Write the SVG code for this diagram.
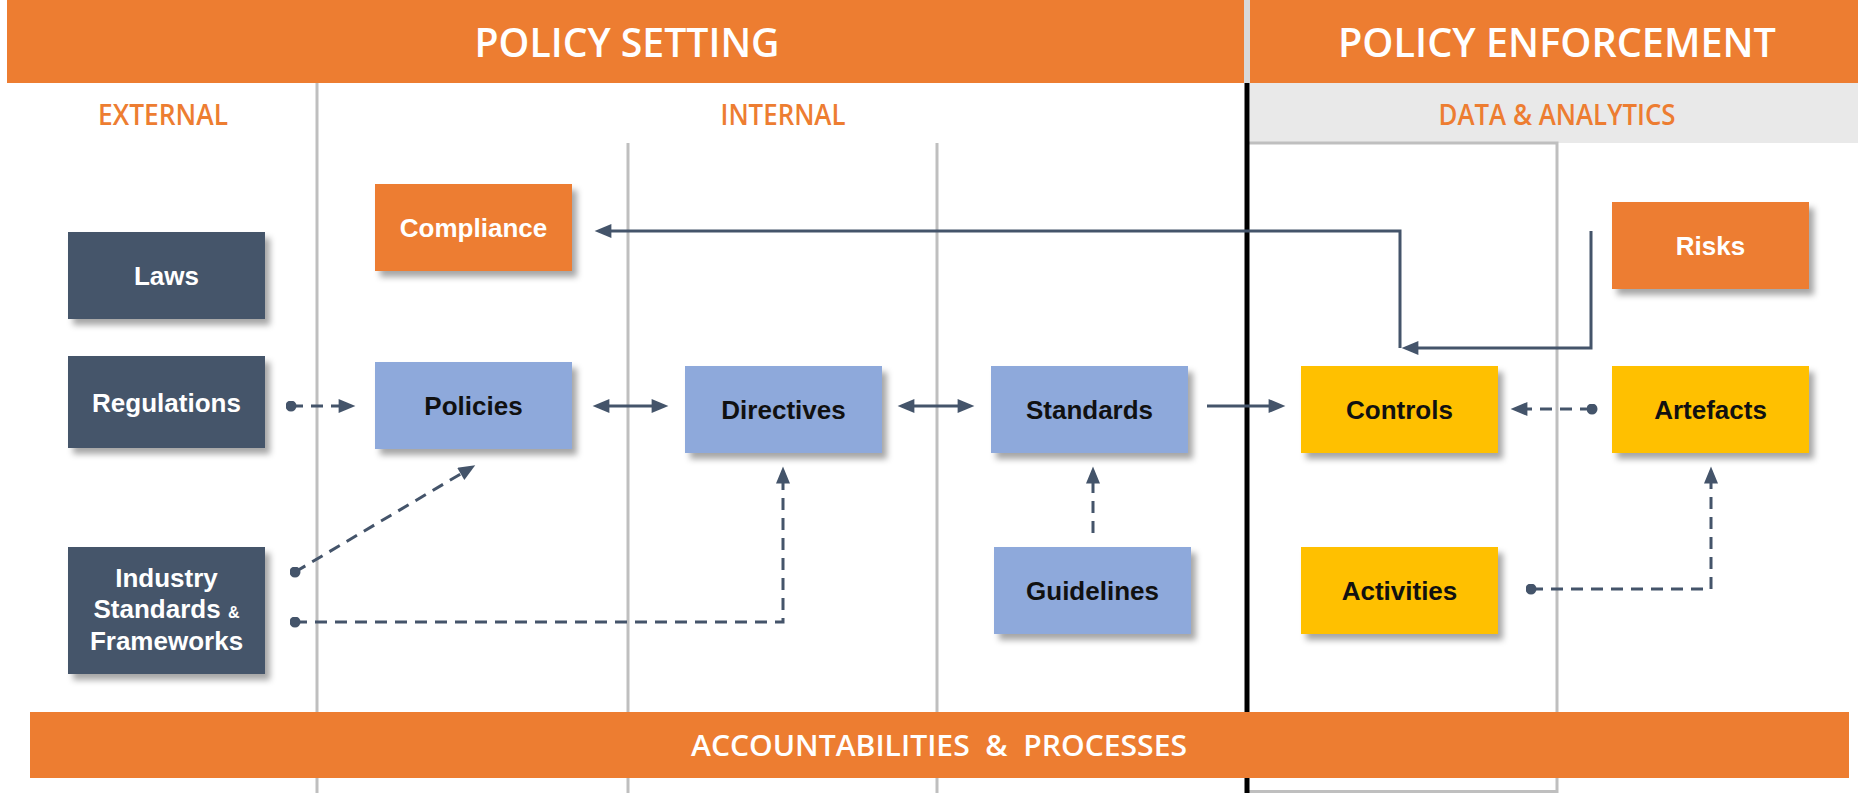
<svg xmlns="http://www.w3.org/2000/svg" width="1858" height="793" viewBox="0 0 1858 793">
<style>
.hdr{font-family:"Open Sans","Liberation Sans",sans-serif;fill:#fff;font-size:40px;font-weight:600}
.sub{font-family:"Open Sans","Liberation Sans",sans-serif;fill:#ED7D31;font-size:28px;font-weight:600}
.nt{font-family:"Liberation Sans",Arial,sans-serif;font-weight:bold;font-size:26px;text-anchor:middle}
.w{fill:#fff}.k{fill:#111}
.dark{fill:#44546A}.org{fill:#ED7D31}.blu{fill:#8EA9DB}.yel{fill:#FFC000}
.grid{stroke:#BFBFBF;stroke-width:3;fill:none}
.c{stroke:#44546A;stroke-width:3;fill:none}
.d{stroke-dasharray:12 8}
</style>
<defs>
<filter id="sh" x="-10%" y="-10%" width="130%" height="140%">
<feDropShadow dx="5" dy="6" stdDeviation="3" flood-color="#000" flood-opacity="0.35"/>
</filter>
<marker id="arr" viewBox="0 0 12 10" refX="6" refY="5" markerWidth="18" markerHeight="14" markerUnits="userSpaceOnUse" orient="auto-start-reverse">
<path d="M0,0 L12,5 L0,10 z" fill="#44546A"/>
</marker>
<marker id="dot" viewBox="0 0 10 10" refX="5" refY="5" markerWidth="11" markerHeight="11" markerUnits="userSpaceOnUse">
<circle cx="5" cy="5" r="5" fill="#44546A"/>
</marker>
</defs>
<rect width="1858" height="793" fill="#fff"/>
<g id="background">
<rect x="7" y="0" width="1237" height="83" fill="#ED7D31"/>
<rect x="1250" y="0" width="608" height="83" fill="#ED7D31"/>
<rect x="1244" y="0" width="6" height="83" fill="#D9D9D9"/>
<rect x="1250" y="83" width="608" height="60" fill="#E9E9E9"/>
<line class="grid" x1="317" y1="83" x2="317" y2="793"/>
<line class="grid" x1="628" y1="143" x2="628" y2="793"/>
<line class="grid" x1="937" y1="143" x2="937" y2="793"/>
<path class="grid" d="M1249 143 H1557 V793"/>
<line class="grid" x1="1249" y1="791.5" x2="1557" y2="791.5" stroke-width="2"/>
<line x1="1247" y1="83" x2="1247" y2="793" stroke="#000" stroke-width="5"/>
<text class="hdr" x="627" y="57" text-anchor="middle" textLength="305" lengthAdjust="spacingAndGlyphs">POLICY SETTING</text>
<text class="hdr" x="1557" y="57" text-anchor="middle" textLength="438" lengthAdjust="spacingAndGlyphs">POLICY ENFORCEMENT</text>
<text class="sub" x="163" y="125" text-anchor="middle" textLength="130" lengthAdjust="spacingAndGlyphs">EXTERNAL</text>
<text class="sub" x="783" y="125" text-anchor="middle" textLength="125" lengthAdjust="spacingAndGlyphs">INTERNAL</text>
<text class="sub" x="1557" y="125" text-anchor="middle" textLength="237" lengthAdjust="spacingAndGlyphs">DATA &amp; ANALYTICS</text>
</g>
<g id="connectors">
<path class="c d" d="M291 406 H347" marker-start="url(#dot)" marker-end="url(#arr)"/>
<path class="c" d="M601 406 H660" marker-start="url(#arr)" marker-end="url(#arr)"/>
<path class="c" d="M906 406 H966" marker-start="url(#arr)" marker-end="url(#arr)"/>
<path class="c" d="M1207 406 H1277" marker-end="url(#arr)"/>
<path class="c d" d="M1592 409 H1519" marker-start="url(#dot)" marker-end="url(#arr)"/>
<path class="c" d="M1591 231 V348 H1410" marker-end="url(#arr)"/>
<path class="c" d="M1400 348 V231 H603" marker-end="url(#arr)"/>
<path class="c d" d="M295 572 L468 469.6" marker-start="url(#dot)" marker-end="url(#arr)"/>
<path class="c d" d="M295 622 H783 V475" marker-start="url(#dot)" marker-end="url(#arr)"/>
<path class="c d" d="M1093 533 V475" marker-end="url(#arr)"/>
<path class="c d" d="M1531 589 H1711 V475" marker-start="url(#dot)" marker-end="url(#arr)"/>
</g>
<g id="laws"><rect class="dark" x="68" y="232" width="197" height="87" filter="url(#sh)"/><text class="nt w" x="166.5" y="285">Laws</text></g>
<g id="regulations"><rect class="dark" x="68" y="356" width="197" height="92" filter="url(#sh)"/><text class="nt w" x="166.5" y="412">Regulations</text></g>
<g id="industry"><rect class="dark" x="68" y="547" width="197" height="127" filter="url(#sh)"/><text class="nt w" x="166.5" y="587">Industry</text><text class="nt w" x="166.5" y="618">Standards <tspan font-size="16">&amp;</tspan></text><text class="nt w" x="166.5" y="650">Frameworks</text></g>
<g id="compliance"><rect class="org" x="375" y="184" width="197" height="87" filter="url(#sh)"/><text class="nt w" x="473.5" y="237">Compliance</text></g>
<g id="policies"><rect class="blu" x="375" y="362" width="197" height="87" filter="url(#sh)"/><text class="nt k" x="473.5" y="415">Policies</text></g>
<g id="directives"><rect class="blu" x="685" y="366" width="197" height="87" filter="url(#sh)"/><text class="nt k" x="783.5" y="419">Directives</text></g>
<g id="standards"><rect class="blu" x="991" y="366" width="197" height="87" filter="url(#sh)"/><text class="nt k" x="1089.5" y="419">Standards</text></g>
<g id="guidelines"><rect class="blu" x="994" y="547" width="197" height="87" filter="url(#sh)"/><text class="nt k" x="1092.5" y="600">Guidelines</text></g>
<g id="controls"><rect class="yel" x="1301" y="366" width="197" height="87" filter="url(#sh)"/><text class="nt k" x="1399.5" y="419">Controls</text></g>
<g id="activities"><rect class="yel" x="1301" y="547" width="197" height="87" filter="url(#sh)"/><text class="nt k" x="1399.5" y="600">Activities</text></g>
<g id="risks"><rect class="org" x="1612" y="202" width="197" height="87" filter="url(#sh)"/><text class="nt w" x="1710.5" y="255">Risks</text></g>
<g id="artefacts"><rect class="yel" x="1612" y="366" width="197" height="87" filter="url(#sh)"/><text class="nt k" x="1710.5" y="419">Artefacts</text></g>
<g id="accountabilities">
<rect x="30" y="712" width="1819" height="66" fill="#ED7D31"/>
<text x="939" y="756" text-anchor="middle" font-family="'Open Sans','Liberation Sans',sans-serif" font-size="29" font-weight="600" fill="#fff" textLength="496" lengthAdjust="spacingAndGlyphs" xml:space="preserve">ACCOUNTABILITIES  &amp;  PROCESSES</text>
</g>
</svg>
